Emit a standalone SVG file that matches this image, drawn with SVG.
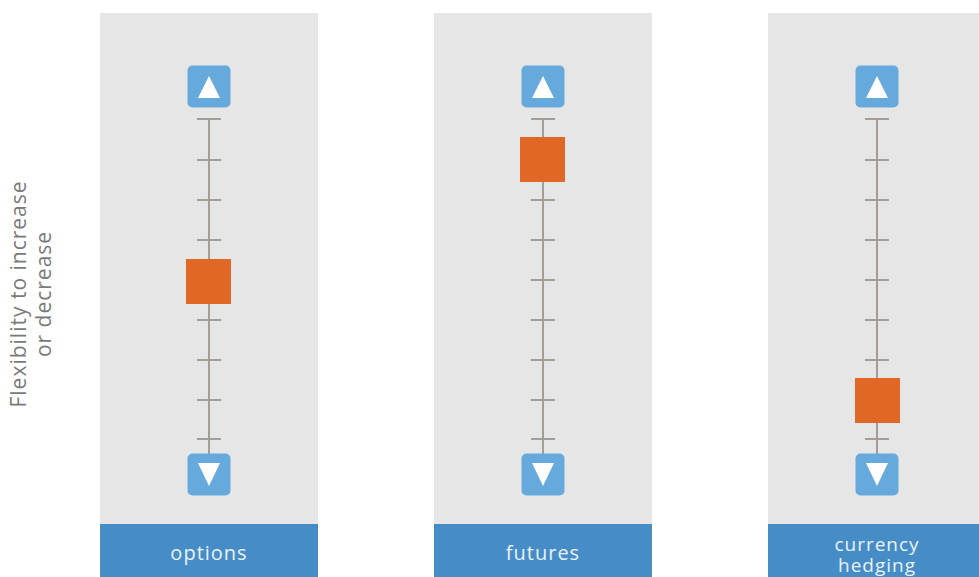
<svg xmlns="http://www.w3.org/2000/svg" width="979" height="577" viewBox="0 0 979 577">
<defs>
<style>
.panel{fill:#E6E6E6}
.label{fill:#468DC8}
.ltxt{font-family:"Open Sans","Noto Sans",sans-serif;font-size:20px;letter-spacing:1px;fill:#EAF2FA;text-anchor:middle}
.axis{font-family:"Open Sans","Noto Sans",sans-serif;font-size:21px;letter-spacing:1px;fill:#7A7A7A;text-anchor:middle}
.btn{fill:#66A9DC}
.tri{fill:#FFFFFF}
.track{stroke:#A39D97;stroke-width:2;fill:none}
.knob{fill:#E06726}
</style>
<g id="slider">
<line class="track" x1="0" y1="119" x2="0" y2="456"/>
<path class="track" d="M-12 119H12M-12 160H12M-12 200H12M-12 240H12M-12 280H12M-12 320H12M-12 360H12M-12 400H12M-12 439H12"/>
<rect class="btn" x="-21.5" y="65.5" width="43" height="42" rx="5"/>
<polygon class="tri" points="0,76 -11,98 11,98"/>
<rect class="btn" x="-21.5" y="453.5" width="43" height="42" rx="5"/>
<polygon class="tri" points="0,486 -11,463 11,463"/>
</g>
</defs>
<g id="axis-title">
<text class="axis" transform="translate(26,294) rotate(-90)">Flexibility to increase</text>
<text class="axis" transform="translate(51,294) rotate(-90)">or decrease</text>
</g>
<g id="options">
<rect class="panel" x="100" y="13" width="218" height="511"/>
<rect class="label" x="100" y="524" width="218" height="53"/>
<use href="#slider" x="209" y="0"/>
<rect class="knob" x="186" y="259" width="45" height="45"/>
<text class="ltxt" x="209" y="560">options</text>
</g>
<g id="futures">
<rect class="panel" x="434" y="13" width="218" height="511"/>
<rect class="label" x="434" y="524" width="218" height="53"/>
<use href="#slider" x="543" y="0"/>
<rect class="knob" x="520" y="137" width="45" height="45"/>
<text class="ltxt" x="543" y="560">futures</text>
</g>
<g id="currency-hedging">
<rect class="panel" x="768" y="13" width="218" height="511"/>
<rect class="label" x="768" y="524" width="218" height="53"/>
<use href="#slider" x="877" y="0"/>
<rect class="knob" x="855" y="378" width="45" height="45"/>
<text class="ltxt" x="877" y="551" style="font-size:19px">currency</text>
<text class="ltxt" x="877" y="572" style="font-size:19px">hedging</text>
</g>
<g id="connectors"></g>
</svg>
